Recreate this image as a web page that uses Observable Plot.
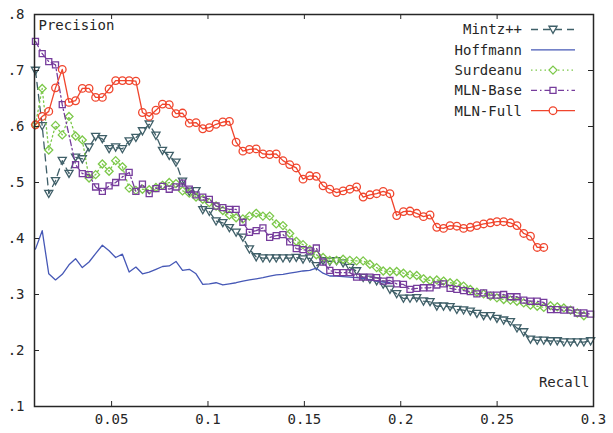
<!DOCTYPE html>
<html><head><meta charset="utf-8">
<script src="https://cdn.jsdelivr.net/npm/d3@7"></script>
<script src="https://cdn.jsdelivr.net/npm/@observablehq/plot@0.6"></script>
<style>
html,body{margin:0;padding:0;background:#fff;}
#chart{position:relative;width:613px;height:433px;}
#legend{position:absolute;left:0;top:0;pointer-events:none;}
</style></head><body><div id="chart"></div>
<script>
// ---- data ----
const recall = [
0.0105,0.0140,0.0174,0.0209,0.0244,0.0279,0.0313,0.0348,0.0383,0.0417,
0.0452,0.0487,0.0521,0.0556,0.0591,0.0626,0.0660,0.0695,0.0730,0.0764,
0.0799,0.0834,0.0868,0.0903,0.0938,0.0973,0.1007,0.1042,0.1077,0.1111,
0.1146,0.1181,0.1215,0.1250,0.1285,0.1320,0.1354,0.1389,0.1424,0.1458,
0.1493,0.1528,0.1562,0.1597,0.1632,0.1667,0.1701,0.1736,0.1771,0.1805,
0.1840,0.1875,0.1909,0.1944,0.1979,0.2014,0.2048,0.2083,0.2118,0.2152,
0.2187,0.2222,0.2256,0.2291,0.2326,0.2361,0.2395,0.2430,0.2465,0.2499,
0.2534,0.2569,0.2603,0.2638,0.2673,0.2708,0.2742,0.2777,0.2812,0.2846,
0.2881,0.2916,0.2950,0.2985];

const mintzP = [
.700,.601,.480,.503,.539,.516,.545,.542,.563,.582,
.578,.560,.563,.560,.574,.580,.592,.604,.584,.557,
.548,.536,.502,.484,.485,.451,.448,.431,.428,.419,
.411,.402,.381,.367,.365,.365,.365,.365,.365,.366,
.363,.365,.351,.360,.359,.360,.356,.348,.342,.330,
.327,.324,.318,.309,.301,.293,.293,.294,.288,.287,
.279,.279,.278,.273,.272,.270,.266,.262,.262,.257,
.254,.251,.240,.233,.220,.218,.218,.217,.217,.215,
.215,.215,.215,.217];

const hoffmannP = [
.381,.414,.337,.326,.336,.353,.364,.348,.358,.373,
.388,.378,.366,.372,.340,.349,.337,.340,.345,.350,
.351,.359,.343,.345,.337,.318,.319,.321,.317,.319,
.321,.324,.326,.328,.330,.333,.335,.336,.338,.340,
.342,.343,.347,.338,.333,.333,.332,.331,.330,.329,
.326,.324,.322,.321];

const surdeanuP = [
.603,.668,.558,.602,.585,.618,.583,.576,.508,.514,
.533,.520,.539,.528,.490,.486,.488,.487,.491,.495,
.500,.498,.485,.481,.474,.470,.464,.458,.450,.442,
.437,.435,.440,.445,.440,.440,.426,.423,.409,.395,
.389,.380,.371,.366,.361,.361,.363,.361,.360,.360,
.354,.348,.342,.341,.341,.338,.335,.334,.328,.325,
.326,.324,.321,.320,.315,.309,.304,.301,.297,.294,
.291,.290,.288,.285,.281,.279,.277,.280,.278,.276,
.272,.267,.262];

// null = no point at that recall step
const mlnBaseP = [
.752,.730,.716,.710,.639,null,.532,.516,.514,.492,
.484,.494,.500,.510,.518,.484,.497,.480,.489,.493,
.488,.492,.499,.488,.478,.474,.470,.458,.455,.452,
.452,.429,.411,.414,.419,.402,.405,.407,.394,.382,
.380,.378,.383,.358,.343,.339,.339,.339,.331,.331,
.331,.330,.324,.325,.319,.318,.309,.311,.312,.312,
.317,.319,.311,.309,.307,.305,.301,.303,.299,.299,
.300,.296,.296,.290,.288,.288,.286,.273,.273,.272,
.272,.267,.267,.265];

const mlnFullP = [
.603,.618,.627,.669,.702,.643,.646,.668,.668,.652,
.652,.667,.682,.682,.682,.681,.625,.618,.629,.640,
.639,.623,.624,.606,.607,.596,.598,.604,.608,.609,
.572,.556,.559,.560,.551,.550,.551,.539,.532,.526,
.506,.512,.511,.494,.488,.482,.485,.488,.492,.474,
.478,.480,.484,.480,.441,.448,.449,.445,.439,.442,
.420,.418,.423,.422,.418,.420,.423,.426,.428,.430,
.430,.428,.423,.409,.404,.384,.384];

const seriesNames = ["Mintz++","Hoffmann","Surdeanu","MLN-Base","MLN-Full"];
const xTicks = [0.05,0.1,0.15,0.2,0.25,0.3];
const yTicks = [0.1,0.2,0.3,0.4,0.5,0.6,0.7,0.8];
const xLabel = "Recall";
const yLabel = "Precision";

// ---- styling ----
const FONT = "'DejaVu Sans Mono', 'Liberation Mono', monospace";
const INK = "#262626";
const triangleDown = {
  draw(ctx, size) {
    const a = Math.sqrt(size) * 0.62;
    ctx.moveTo(-a, -0.8 * a);
    ctx.lineTo(a, -0.8 * a);
    ctx.lineTo(0, 0.95 * a);
    ctx.closePath();
  }
};
const styles = [
  {color:"#3f5f68", dash:"7,5", symbol: triangleDown, r:3.7},
  {color:"#4658b6", dash:null, symbol:null, r:0},
  {color:"#7cc84a", dash:"1.5,3", symbol:"diamond2", r:3.6},
  {color:"#763c9c", dash:"6,3,1.5,3", symbol:"square", r:3.4},
  {color:"#f0452d", dash:null, symbol:"circle", r:3.8}
];
const valuesList = [mintzP, hoffmannP, surdeanuP, mlnBaseP, mlnFullP];

const W = 613, H = 433, mL = 34, mR = 20, mT = 14, mB = 27;
const frameH = H - mT - mB, frameW = W - mL - mR, T = 5;

const marks = [];
valuesList.forEach((vals, k) => {
  const s = styles[k];
  const rows = vals.map((p, i) => ({r: recall[i], p})).filter(d => d.p != null);
  marks.push(Plot.line(rows, {x:"r", y:"p", stroke:s.color, strokeWidth:1.3,
    strokeDasharray: s.dash || undefined}));
  if (s.symbol) marks.push(Plot.dot(rows, {x:"r", y:"p", stroke:s.color, fill:"none",
    symbol:s.symbol, r:s.r, strokeWidth:1.3}));
});

const chart = Plot.plot({
  width: W, height: H,
  marginLeft: mL, marginRight: mR, marginTop: mT, marginBottom: mB,
  style: {fontFamily: FONT, fontSize: "14px", color: INK, background: "#fff"},
  x: {domain: [0.01, 0.3], label: null},
  y: {domain: [0.1, 0.8], label: null},
  marks: [
    ...marks,
    Plot.ruleX(xTicks, {x: d => d, insetTop: frameH - T, stroke: INK}),
    Plot.ruleX(xTicks, {x: d => d, insetBottom: frameH - T, stroke: INK}),
    Plot.ruleY(yTicks, {y: d => d, insetRight: frameW - T, stroke: INK}),
    Plot.ruleY(yTicks, {y: d => d, insetLeft: frameW - T, stroke: INK}),
    Plot.axisX({ticks: xTicks, tickSize: 0, tickPadding: 8, label: null,
      tickFormat: d => String(d), fontSize: 14}),
    Plot.axisY({ticks: yTicks, tickSize: 0, tickPadding: 10, label: null,
      tickFormat: d => "." + Math.round(d * 10), fontSize: 14}),
    Plot.frame({stroke: INK, strokeWidth: 1.5}),
    Plot.text([yLabel], {text: d => d, frameAnchor: "top-left", textAnchor: "start",
      lineAnchor: "middle", dx: 4, dy: 11, fontSize: 14, fill: INK}),
    Plot.text([xLabel], {text: d => d, frameAnchor: "bottom-right", textAnchor: "end",
      lineAnchor: "middle", dx: -4, dy: -24, fontSize: 14, fill: INK})
  ]
});
document.getElementById("chart").appendChild(chart);

// ---- legend (overlay) ----
const leg = d3.select("#chart").append("svg").attr("id", "legend")
  .attr("width", W).attr("height", H);
seriesNames.forEach((name, k) => {
  const s = styles[k];
  const cy = 29.5 + 20.3 * k;
  leg.append("text").attr("x", 522).attr("y", cy).attr("dy", "0.35em")
    .attr("text-anchor", "end").attr("font-family", FONT).attr("font-size", 14)
    .attr("fill", INK).text(name);
  leg.append("line").attr("x1", 531).attr("x2", 575).attr("y1", cy).attr("y2", cy)
    .attr("stroke", s.color).attr("stroke-width", 1.3)
    .attr("stroke-dasharray", s.dash || null);
  if (s.symbol) {
    const type = typeof s.symbol === "string"
      ? {circle: d3.symbolCircle, square: d3.symbolSquare, diamond2: d3.symbolDiamond2}[s.symbol]
      : s.symbol;
    leg.append("path").attr("transform", `translate(553,${cy})`)
      .attr("d", d3.symbol(type, Math.PI * s.r * s.r)())
      .attr("fill", "#fff").attr("stroke", s.color).attr("stroke-width", 1.3);
  }
});
</script></body></html>
